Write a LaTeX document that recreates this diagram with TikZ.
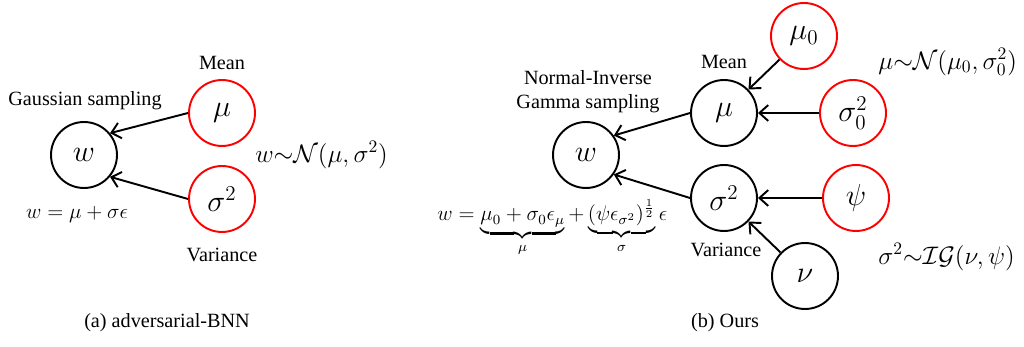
\documentclass[tikz,border=0pt]{standalone}
\usepackage{amsmath,amssymb}
\usepackage{fontspec}
\setmainfont{Liberation Serif}
\usepackage{tikz}
\usetikzlibrary{arrows.meta}

\begin{document}
\begin{tikzpicture}[x=0.02cm,y=-0.02cm,
  var/.style={circle,draw,line width=1.1pt,minimum size=1.32cm,inner sep=0pt,font=\fontsize{17}{19}\selectfont},
  prior/.style={var,draw=red},
  lbl/.style={font=\fontsize{11.5}{13.5}\selectfont},
  eq/.style={font=\fontsize{14}{16}\selectfont},
  link/.style={line width=1.1pt,-{Straight Barb[length=5pt,width=9pt]}}]
 \useasboundingbox (0,0) rectangle (1024,347);
 % (a) adversarial-BNN
 \node[var] (wa) at (84,155) {$w$};
 \node[prior] (mua) at (222,113) {$\mu$};
 \node[prior] (sa) at (222,199) {$\sigma^2$};
 \draw[link] (mua.west) -- (wa.40);
 \draw[link] (sa.west) -- (wa.-40);
 \node[lbl] (meana) at (222,63) {Mean};
 \node[lbl] (gs) at (85,101) {Gaussian sampling};
 \node[lbl] (vara) at (222,255) {Variance};
 \node[lbl] (repa) at (77,214) {$w=\mu+\sigma\epsilon$};
 \node[eq,anchor=west,inner sep=0pt] (dista) at (255,155) {$w{\sim}\mathcal{N}(\mu,\sigma^2)$};
 \node[lbl] (capa) at (167,323) {(a) adversarial-BNN};
 % (b) Ours
 \node[var] (wb) at (586,155) {$w$};
 \node[var] (mub) at (724,113) {$\mu$};
 \node[var] (sb) at (724,198) {$\sigma^2$};
 \node[prior] (mu0) at (804,36) {$\mu_0$};
 \node[prior] (s0) at (853,113) {$\sigma_0^2$};
 \node[prior] (psi) at (856,198) {$\psi$};
 \node[var] (nu) at (805,276) {$\nu$};
 \draw[link] (mub.west) -- (wb.35);
 \draw[link] (sb.west) -- (wb.-35);
 \draw[link] (mu0) -- (mub);
 \draw[link] (s0) -- (mub);
 \draw[link] (psi) -- (sb);
 \draw[link] (nu) -- (sb);
 \node[lbl,align=center] (nig) at (588,92) {Normal-Inverse\\Gamma sampling};
 \node[lbl] (meanb) at (724,62) {Mean};
 \node[lbl] (varb) at (726,250) {Variance};
 \node[lbl,anchor=base west,inner sep=0pt] (repb) at (437,221)
 {$w=\underbrace{\mu_0+\sigma_0\epsilon_\mu}_{\mu}+\underbrace{(\psi\epsilon_{\sigma^2})^{\frac{1}{2}}}_{\sigma}\epsilon$};
 \node[eq,anchor=west,inner sep=0pt] (distmu) at (878,62) {$\mu{\sim}\mathcal{N}(\mu_0,\sigma_0^2)$};
 \node[eq,anchor=west,inner sep=0pt] (distsig) at (878,257) {$\sigma^2{\sim}\mathcal{IG}(\nu,\psi)$};
 \node[lbl] (capb) at (725,323) {(b) Ours};
\end{tikzpicture}
\end{document}
